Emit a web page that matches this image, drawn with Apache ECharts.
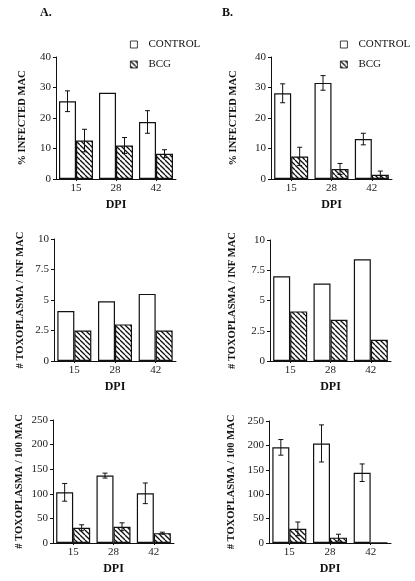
<!DOCTYPE html>
<html><head><meta charset="utf-8">
<script src="https://cdn.jsdelivr.net/npm/echarts@6/dist/echarts.min.js"></script>
<style>html,body{margin:0;padding:0;background:#fff}#c{width:415px;height:581px}</style>
</head><body><div id="c"></div>
<script>
// ---- data ----
const categories = ['15', '28', '42'];
const seriesNames = ['CONTROL', 'BCG'];
const xName = 'DPI';
const yNames = ['% INFECTED MAC', '# TOXOPLASMA / INF MAC', '# TOXOPLASMA / 100 MAC'];
const panelLabels = ['A.', 'B.'];

const aInfControl = [25.5, 28.3, 18.7];
const aInfControlErr = [3.4, null, 3.7];
const aInfBCG = [12.6, 11.0, 8.3];
const aInfBCGErr = [3.7, 2.6, 1.3];

const bInfControl = [28.1, 31.5, 13.1];
const bInfControlErr = [3.1, 2.4, 1.9];
const bInfBCG = [7.4, 3.3, 1.4];
const bInfBCGErr = [3.0, 1.8, 1.2];

const aPerControl = [4.1, 4.9, 5.5];
const aPerBCG = [2.5, 3.0, 2.5];
const bPerControl = [7.0, 6.4, 8.4];
const bPerBCG = [4.1, 3.4, 1.75];

const aHundControl = [103, 137, 101];
const aHundControlErr = [18, 5, 21];
const aHundBCG = [31, 33, 20];
const aHundBCGErr = [6, 8, 2];

const bHundControl = [196, 204, 144];
const bHundControlErr = [16, 38, 18];
const bHundBCG = [29, 11, 1];
const bHundBCGErr = [14, 7, null];

const yMax = [40, 10, 250];
const yInterval = [10, 2.5, 50];

// ---- layout ----
const serif = 'Liberation Serif';
const grids = [
  {left: 56, top: 57, width: 120, height: 122},
  {left: 271, top: 57, width: 121, height: 122},
  {left: 54, top: 239, width: 122, height: 122},
  {left: 270, top: 240, width: 121, height: 121},
  {left: 53, top: 420, width: 121, height: 123},
  {left: 269, top: 421, width: 122, height: 122}
];
const nameGaps = [28, 32, 28, 32, 28, 32];

const panels = [
  {row: 0, ctl: aInfControl, ctlErr: aInfControlErr, bcg: aInfBCG, bcgErr: aInfBCGErr},
  {row: 0, ctl: bInfControl, ctlErr: bInfControlErr, bcg: bInfBCG, bcgErr: bInfBCGErr},
  {row: 1, ctl: aPerControl, ctlErr: null, bcg: aPerBCG, bcgErr: null},
  {row: 1, ctl: bPerControl, ctlErr: null, bcg: bPerBCG, bcgErr: null},
  {row: 2, ctl: aHundControl, ctlErr: aHundControlErr, bcg: aHundBCG, bcgErr: aHundBCGErr},
  {row: 2, ctl: bHundControl, ctlErr: bHundControlErr, bcg: bHundBCG, bcgErr: bHundBCGErr}
];

function hatch() {
  const c = document.createElement('canvas');
  c.width = 5; c.height = 5;
  const g = c.getContext('2d');
  g.fillStyle = '#fff'; g.fillRect(0, 0, 5, 5);
  g.strokeStyle = '#111'; g.lineWidth = 1.3;
  for (const o of [-5, 0, 5]) { g.beginPath(); g.moveTo(o, 0); g.lineTo(o + 5, 5); g.stroke(); }
  return c;
}
const hatchPattern = {image: hatch(), repeat: 'repeat'};

const BW = 17;
function errSeries(i, vals, errs, side) {
  const data = [];
  vals.forEach((v, k) => { if (errs && errs[k] != null) data.push([k, v, errs[k]]); });
  return {
    type: 'custom', xAxisIndex: i, yAxisIndex: i, z: 10, silent: true,
    encode: {x: 0, y: 1},
    data: data,
    renderItem: function (params, api) {
      const k = api.value(0), v = api.value(1), e = api.value(2);
      const hi = api.coord([k, v + e]);
      const lo = api.coord([k, v - e]);
      const x = hi[0] + side * BW / 2;
      const cw = 2.5;
      const st = {stroke: '#111', lineWidth: 1};
      return {type: 'group', children: [
        {type: 'line', shape: {x1: x, y1: hi[1], x2: x, y2: lo[1]}, style: st},
        {type: 'line', shape: {x1: x - cw, y1: hi[1], x2: x + cw, y2: hi[1]}, style: st},
        {type: 'line', shape: {x1: x - cw, y1: lo[1], x2: x + cw, y2: lo[1]}, style: st}
      ]};
    }
  };
}

const xAxes = [], yAxes = [], series = [];
panels.forEach((p, i) => {
  xAxes.push({
    gridIndex: i, type: 'category', data: categories,
    name: xName, nameLocation: 'middle', nameGap: 20,
    nameTextStyle: {fontFamily: serif, fontWeight: 'bold', fontSize: 12, color: '#111'},
    axisLine: {lineStyle: {color: '#111', width: 1}},
    axisTick: {show: true, alignWithLabel: true, length: 2, lineStyle: {color: '#111'}},
    axisLabel: {fontFamily: serif, fontSize: 11, color: '#222', margin: 4}
  });
  yAxes.push({
    gridIndex: i, type: 'value', min: 0, max: yMax[p.row], interval: yInterval[p.row],
    name: yNames[p.row], nameLocation: 'middle', nameRotate: 90, nameGap: nameGaps[i],
    nameTextStyle: {fontFamily: serif, fontWeight: 'bold', fontSize: 10.5, color: '#111'},
    axisLine: {show: true, lineStyle: {color: '#111', width: 1}},
    axisTick: {show: true, length: 3, lineStyle: {color: '#111'}},
    axisLabel: {fontFamily: serif, fontSize: 11, color: '#222', margin: 5},
    splitLine: {show: false}
  });
  series.push({
    name: seriesNames[0], type: 'bar', xAxisIndex: i, yAxisIndex: i, data: p.ctl,
    barWidth: BW, barGap: '0%',
    itemStyle: {color: '#fff', borderColor: '#111', borderWidth: 1.2}
  });
  series.push({
    name: seriesNames[1], type: 'bar', xAxisIndex: i, yAxisIndex: i, data: p.bcg,
    barWidth: BW, barGap: '0%',
    itemStyle: {color: hatchPattern, borderColor: '#111', borderWidth: 1.2}
  });
  if (p.ctlErr) series.push(errSeries(i, p.ctl, p.ctlErr, -1));
  if (p.bcgErr) series.push(errSeries(i, p.bcg, p.bcgErr, 1));
});

const legendBase = {
  orient: 'vertical', data: seriesNames, icon: 'rect', itemWidth: 7, itemHeight: 7, itemGap: 9,
  itemStyle: {borderWidth: 0.8},
  textStyle: {fontFamily: serif, fontSize: 11, color: '#111', padding: [0, 0, 0, 6]}, selectedMode: false
};

const chart = echarts.init(document.getElementById('c'), null, {renderer: 'canvas'});
chart.setOption({
  animation: false,
  backgroundColor: '#fff',
  title: [
    {text: panelLabels[0], left: 35, top: 2, textStyle: {fontFamily: serif, fontWeight: 'bold', fontSize: 12, color: '#111'}},
    {text: panelLabels[1], left: 217, top: 2, textStyle: {fontFamily: serif, fontWeight: 'bold', fontSize: 12, color: '#111'}}
  ],
  legend: [
    Object.assign({left: 125, top: 34}, legendBase),
    Object.assign({left: 335, top: 34}, legendBase)
  ],
  grid: grids,
  xAxis: xAxes,
  yAxis: yAxes,
  series: series
});
</script>
</body></html>
